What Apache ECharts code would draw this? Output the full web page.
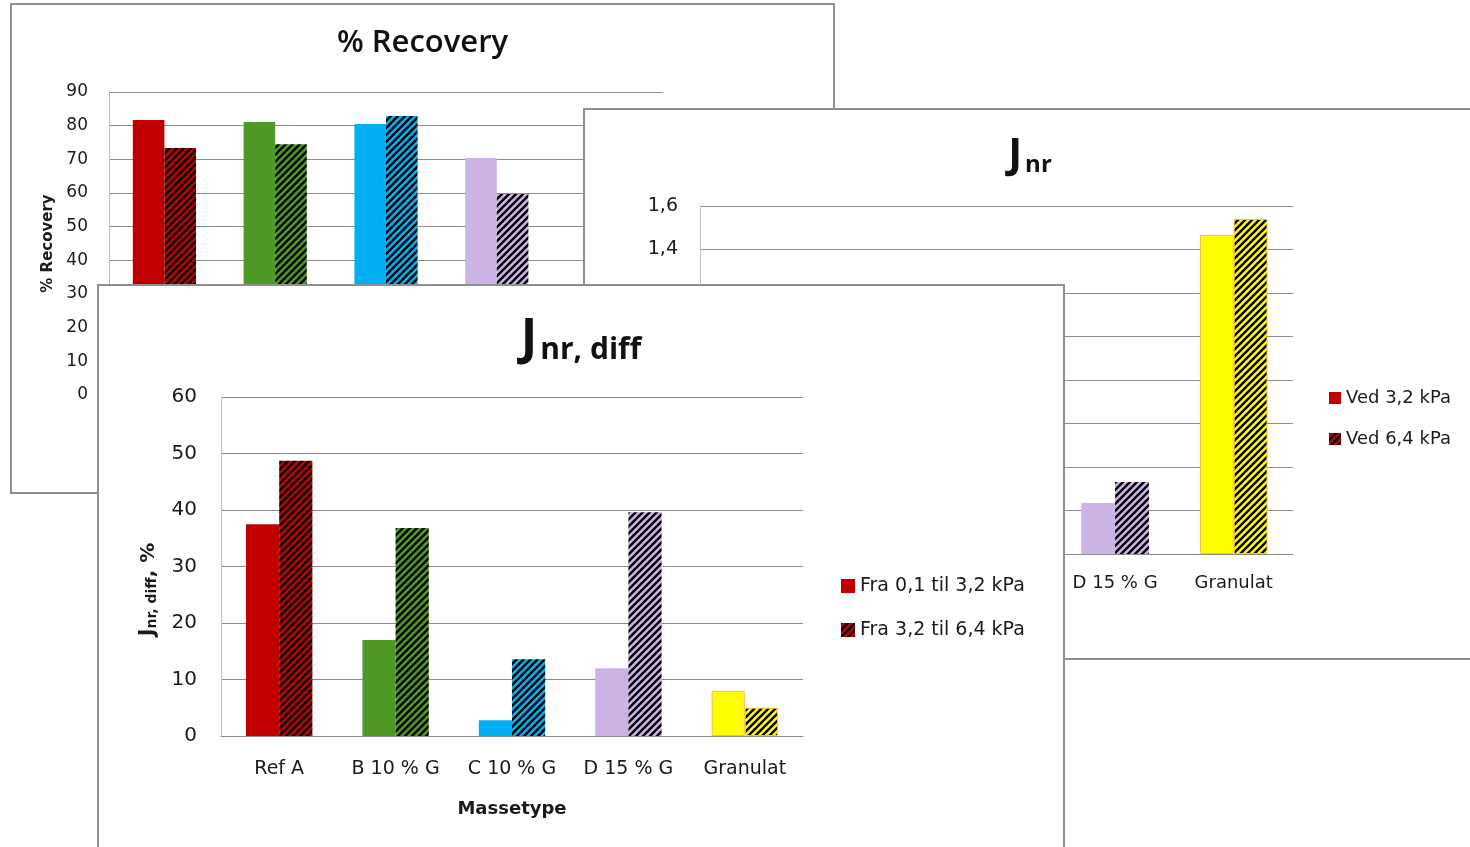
<!DOCTYPE html>
<html>
<head>
<meta charset="utf-8">
<script src="https://cdn.jsdelivr.net/npm/echarts@6/dist/echarts.min.js"></script>
<style>
  html, body { margin: 0; padding: 0; width: 1470px; height: 847px; overflow: hidden; background: #fff; }
  .panel { position: absolute; box-sizing: border-box; border: 2px solid #8f8f8f; background: #fff; }
  .panel > div { width: 100%; height: 100%; }
  #pRec  { left: 10px;  top: 3px;   width: 825px; height: 491px; z-index: 1; }
  #pJnr  { left: 583px; top: 108px; width: 894px; height: 552px; z-index: 2; }
  #pDiff { left: 97px;  top: 284px; width: 968px; height: 600px; z-index: 3; }
</style>
</head>
<body>
<div class="panel" id="pRec"><div id="cRec"></div></div>
<div class="panel" id="pJnr"><div id="cJnr"></div></div>
<div class="panel" id="pDiff"><div id="cDiff"></div></div>
<script>
// Asphalt mix types
const categories = ['Ref A', 'B 10 % G', 'C 10 % G', 'D 15 % G', 'Granulat'];

// % Recovery at 3.2 kPa and 6.4 kPa
const recovery32 = [81.7, 81.1, 80.5, 70.4, 2.5];
const recovery64 = [73.4, 74.5, 82.9, 59.7, 1.0];

// Jnr (1/kPa) at 3.2 kPa and 6.4 kPa
const jnr32 = [0.40, 0.30, 0.20, 0.234, 1.467];
const jnr64 = [0.594, 0.41, 0.228, 0.331, 1.540];

// Jnr,diff (%) for the two stress steps
const diffLow  = [37.5, 17.0, 2.8, 12.0, 8.0];
const diffHigh = [48.7, 36.8, 13.6, 39.6, 5.0];

// Legend labels
const recNames  = ['Ved 3,2 kPa', 'Ved 6,4 kPa'];
const jnrNames  = ['Ved 3,2 kPa', 'Ved 6,4 kPa'];
const diffNames = ['Fra 0,1 til 3,2 kPa', 'Fra 3,2 til 6,4 kPa'];

// Fill colour per mix type
const palette = ['#C00000', '#4F9A27', '#00B0F0', '#CCB3E6', '#FFFF00'];

const FONT = 'DejaVu Sans';
const TITLE_FONT = 'Open Sans';

// Diagonal black hatching on top of a base colour
const hatchCache = {};
function hatch(color) {
  if (hatchCache[color]) return hatchCache[color];
  const s = 7;
  const c = document.createElement('canvas');
  c.width = s; c.height = s;
  const g = c.getContext('2d');
  g.fillStyle = color;
  g.fillRect(0, 0, s, s);
  g.strokeStyle = '#000';
  g.lineWidth = 2.4;
  g.beginPath();
  g.moveTo(0, s); g.lineTo(s, 0);
  g.moveTo(-2, 2); g.lineTo(2, -2);
  g.moveTo(s - 2, s + 2); g.lineTo(s + 2, s - 2);
  g.stroke();
  const pat = { image: c, repeat: 'repeat' };
  hatchCache[color] = pat;
  return pat;
}

function barData(values, hatched) {
  return values.map((v, i) => ({
    value: v,
    itemStyle: {
      color: hatched ? hatch(palette[i]) : palette[i],
      borderColor: i === 4 ? '#F4BE4C' : 'rgba(0,0,0,0)',
      borderWidth: i === 4 ? 1 : 0
    }
  }));
}

function build(el, cfg) {
  const chart = echarts.init(document.getElementById(el), null, { renderer: 'canvas' });
  chart.setOption({
    animation: false,
    textStyle: { fontFamily: FONT },
    title: Object.assign({ left: 'center' }, cfg.title),
    legend: Object.assign({
      orient: 'vertical',
      itemWidth: cfg.legendIcon, itemHeight: cfg.legendIcon,
      icon: 'rect',
      textStyle: { fontFamily: FONT, fontSize: cfg.legendFont, color: '#1a1a1a', lineHeight: 20 },
      data: cfg.names
    }, cfg.legend),
    grid: cfg.grid,
    xAxis: {
      type: 'category',
      data: categories,
      name: cfg.xName || '',
      nameLocation: 'middle',
      nameGap: cfg.xNameGap || 0,
      nameTextStyle: { fontFamily: FONT, fontSize: 18, fontWeight: 'bold', color: '#1a1a1a' },
      axisLine: { lineStyle: { color: '#8c8c8c', width: 1 } },
      axisTick: { show: false },
      axisLabel: { interval: 0, fontFamily: FONT, fontSize: cfg.xFont, color: '#1a1a1a', margin: cfg.xMargin }
    },
    yAxis: {
      type: 'value',
      min: 0, max: cfg.max, interval: cfg.interval,
      name: cfg.yName,
      nameLocation: 'middle',
      nameRotate: 90,
      nameGap: cfg.yNameGap,
      nameTextStyle: cfg.yNameStyle,
      axisLine: { show: true, lineStyle: { color: '#c0c0c0', width: 1 } },
      axisTick: { show: false },
      splitLine: { lineStyle: { color: '#8c8c8c', width: 1 } },
      axisLabel: {
        fontFamily: FONT, fontSize: cfg.yFont, color: '#1a1a1a', margin: cfg.yMargin,
        formatter: cfg.yFormat || (v => String(v))
      }
    },
    series: [
      { type: 'bar', name: cfg.names[0], data: barData(cfg.a, false),
        itemStyle: { color: palette[0] }, barGap: '0%', barCategoryGap: '43%' },
      { type: 'bar', name: cfg.names[1], data: barData(cfg.b, true),
        itemStyle: { color: hatch(palette[0]) }, barGap: '0%', barCategoryGap: '43%' }
    ]
  });
}

// % Recovery
build('cRec', {
  title: { text: '% Recovery', top: 18, textStyle: { fontFamily: TITLE_FONT, fontSize: 31, fontWeight: 600, color: '#111' } },
  grid: { left: 97, top: 87, width: 554, height: 303 },
  max: 90, interval: 10,
  a: recovery32, b: recovery64, names: recNames,
  yName: '% Recovery', yNameGap: 52,
  yNameStyle: { fontFamily: FONT, fontSize: 15, fontWeight: 'bold', color: '#1a1a1a' },
  yFont: 17, yMargin: 21, xFont: 17, xMargin: 20,
  legend: { left: 700, top: 250, itemGap: 20 }, legendIcon: 12, legendFont: 17
});

// Jnr
build('cJnr', {
  title: {
    text: '{j|J}{s|nr}', top: 16,
    textStyle: { rich: {
      j: { fontFamily: TITLE_FONT, fontSize: 42, fontWeight: 'bold', color: '#111', verticalAlign: 'bottom', lineHeight: 46 },
      s: { fontFamily: TITLE_FONT, fontSize: 24, fontWeight: 'bold', color: '#111', verticalAlign: 'bottom', lineHeight: 38, padding: [0, 0, 0, 3] }
    } }
  },
  grid: { left: 115, top: 96, width: 593, height: 348 },
  max: 1.6, interval: 0.2,
  yFormat: v => v.toFixed(1).replace('.', ','),
  a: jnr32, b: jnr64, names: jnrNames,
  yName: '', yNameGap: 50, yNameStyle: { fontSize: 15 },
  yFont: 19, yMargin: 22, xFont: 18, xMargin: 20,
  legend: { left: 739, top: 273, itemGap: 21 }, legendIcon: 12, legendFont: 18
});

// Jnr,diff
build('cDiff', {
  title: {
    text: '{j|J}{s|nr, diff}', top: 20,
    textStyle: { rich: {
      j: { fontFamily: TITLE_FONT, fontSize: 50, fontWeight: 'bold', color: '#111', verticalAlign: 'bottom', lineHeight: 54 },
      s: { fontFamily: TITLE_FONT, fontSize: 30, fontWeight: 'bold', color: '#111', verticalAlign: 'bottom', lineHeight: 44, padding: [0, 0, 0, 3] }
    } }
  },
  grid: { left: 122, top: 111, width: 582, height: 339 },
  max: 60, interval: 10,
  a: diffLow, b: diffHigh, names: diffNames,
  yName: '{j|J}{s|nr, diff}{p|, %}', yNameGap: 62,
  yNameStyle: {
    padding: [0, 46, 0, 0],
    rich: {
      j: { fontFamily: FONT, fontSize: 21, fontWeight: 'bold', color: '#1a1a1a', verticalAlign: 'bottom', lineHeight: 24 },
      s: { fontFamily: FONT, fontSize: 14, fontWeight: 'bold', color: '#1a1a1a', verticalAlign: 'bottom', lineHeight: 19 },
      p: { fontFamily: FONT, fontSize: 20, fontWeight: 'bold', color: '#1a1a1a', verticalAlign: 'bottom', lineHeight: 23 }
    }
  },
  xName: 'Massetype', xNameGap: 64,
  yFont: 20, yMargin: 24, xFont: 19, xMargin: 24,
  legend: { left: 737, top: 285, itemGap: 24 }, legendIcon: 14, legendFont: 19
});
</script>
</body>
</html>
